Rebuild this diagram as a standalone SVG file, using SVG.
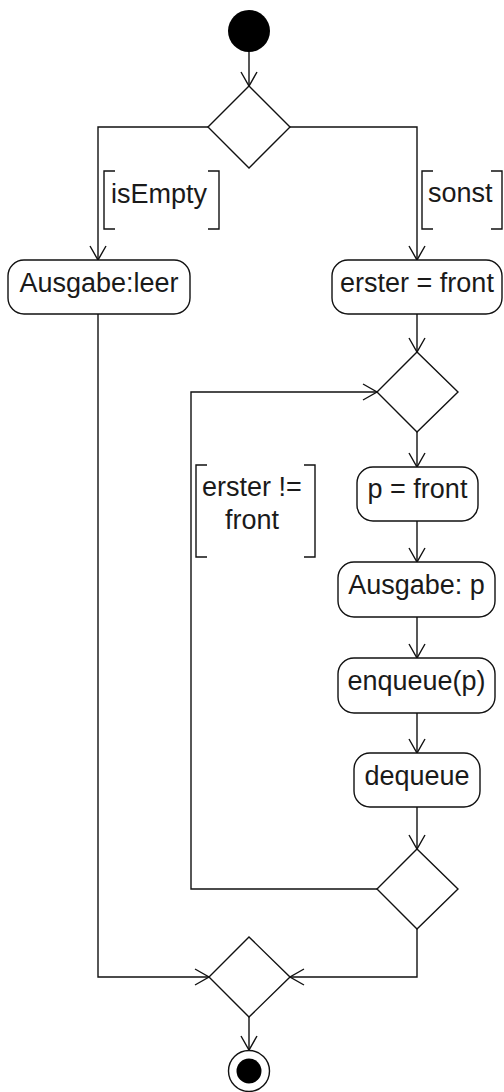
<svg xmlns="http://www.w3.org/2000/svg" width="504" height="1092" viewBox="0 0 504 1092">
<style>
.ln{fill:none;stroke:#111;stroke-width:1.4}
.act{fill:#fff;stroke:#111;stroke-width:1.4}
.dec{fill:#fff;stroke:#111;stroke-width:1.4}
.br{fill:none;stroke:#111;stroke-width:1.4}
.t{font-family:"Liberation Sans",Arial,sans-serif;font-size:27px;fill:#1a1a1a;text-anchor:middle}
.g{font-family:"Liberation Sans",Arial,sans-serif;font-size:27px;fill:#1a1a1a}
</style>
<defs>
<marker id="arr" viewBox="-16 -10 18 20" refX="0" refY="0" markerWidth="18" markerHeight="20" markerUnits="userSpaceOnUse" orient="auto">
<path d="M-14,-8 L0,0 L-14,8" fill="none" stroke="#111" stroke-width="1.4"/>
</marker>
</defs>
<g id="connectors">
<path class="ln" d="M249,52 V86" marker-end="url(#arr)"/>
<path class="ln" d="M208,127 H98 V260" marker-end="url(#arr)"/>
<path class="ln" d="M290,127 H417 V260" marker-end="url(#arr)"/>
<path class="ln" d="M417,314 V352" marker-end="url(#arr)"/>
<path class="ln" d="M417,432 V467" marker-end="url(#arr)"/>
<path class="ln" d="M417,521 V562" marker-end="url(#arr)"/>
<path class="ln" d="M417,617 V658" marker-end="url(#arr)"/>
<path class="ln" d="M417,713 V753" marker-end="url(#arr)"/>
<path class="ln" d="M417,807 V849" marker-end="url(#arr)"/>
<path class="ln" d="M377,889 H191 V392 H377" marker-end="url(#arr)"/>
<path class="ln" d="M417,929 V977 H290" marker-end="url(#arr)"/>
<path class="ln" d="M98,314 V977 H209" marker-end="url(#arr)"/>
<path class="ln" d="M249,1017 V1050" marker-end="url(#arr)"/>
<g id="guard-isEmpty">
<path class="br" d="M115,171 H104 V229 H115"/>
<path class="br" d="M208,171 H219 V229 H208"/>
<text class="g" x="111" y="203">isEmpty</text>
</g>
<g id="guard-sonst">
<path class="br" d="M433,171 H422 V229 H433"/>
<path class="br" d="M491,171 H502 V229 H491"/>
<text class="g" x="428" y="202">sonst</text>
</g>
<g id="guard-loop">
<path class="br" d="M207,465 H196 V557 H207"/>
<path class="br" d="M304,465 H315 V557 H304"/>
<text class="t" x="252" y="496">erster !=</text>
<text class="t" x="252" y="529">front</text>
</g>
</g>
<g id="start"><circle cx="249" cy="31" r="21" fill="#000"/></g>
<g id="d1"><polygon class="dec" points="249,86 290,127 249,168 208,127"/></g>
<g id="ausgabe-leer"><rect class="act" x="8" y="260" width="182" height="54" rx="16"/><text class="t" x="99" y="292">Ausgabe:leer</text></g>
<g id="erster-front"><rect class="act" x="332" y="260" width="170" height="54" rx="16"/><text class="t" x="417" y="292">erster = front</text></g>
<g id="d2"><polygon class="dec" points="417,352 458,392 417,432 377,392"/></g>
<g id="p-front"><rect class="act" x="357" y="467" width="121" height="54" rx="16"/><text class="t" x="417.5" y="498">p = front</text></g>
<g id="ausgabe-p"><rect class="act" x="338" y="562" width="157" height="55" rx="16"/><text class="t" x="416.5" y="594">Ausgabe: p</text></g>
<g id="enqueue"><rect class="act" x="338" y="658" width="157" height="55" rx="16"/><text class="t" x="416.5" y="690">enqueue(p)</text></g>
<g id="dequeue"><rect class="act" x="354" y="753" width="126" height="54" rx="16"/><text class="t" x="417" y="785">dequeue</text></g>
<g id="d3"><polygon class="dec" points="417,849 458,889 417,929 377,889"/></g>
<g id="d4"><polygon class="dec" points="249,937 290,977 249,1017 209,977"/></g>
<g id="end"><circle cx="249" cy="1071" r="20.5" fill="#fff" stroke="#111" stroke-width="1.4"/><circle cx="249" cy="1071" r="12.5" fill="#000"/></g>
</svg>
